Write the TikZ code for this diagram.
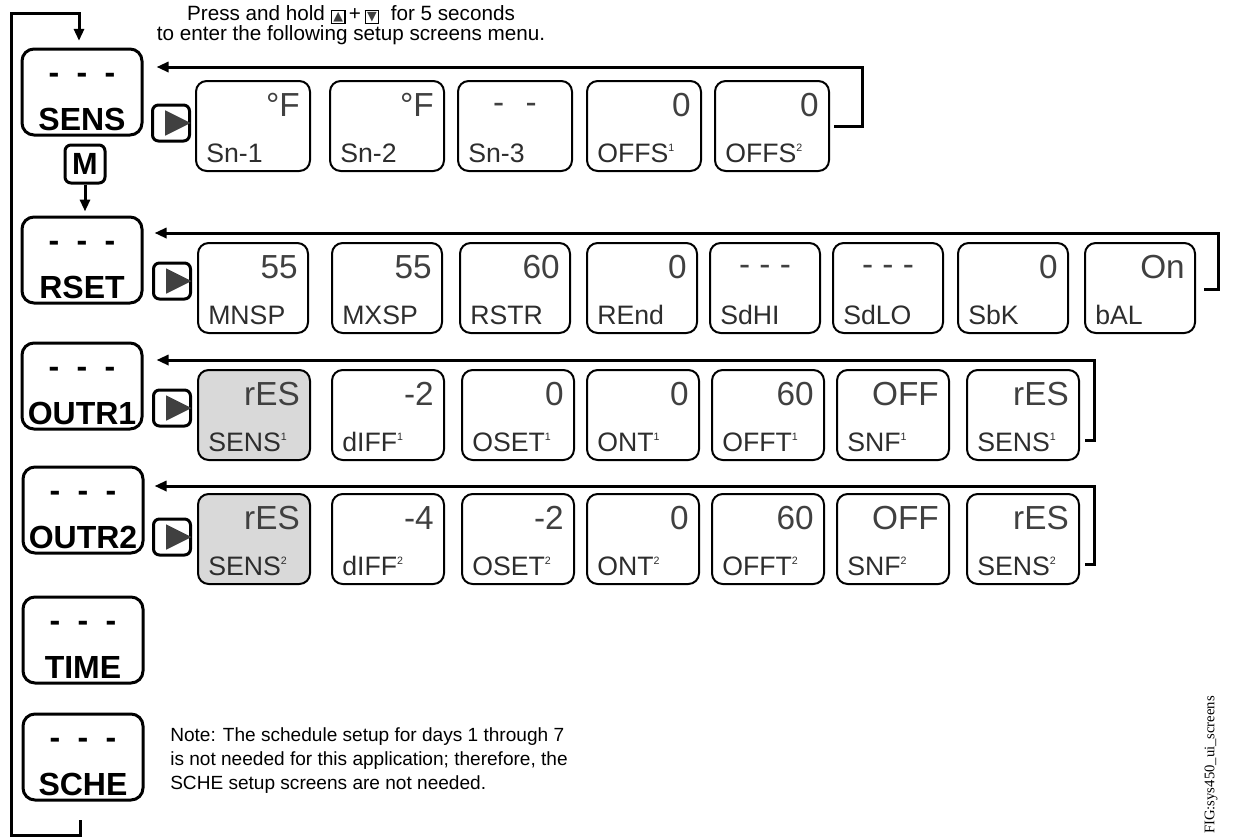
\documentclass[tikz,border=0pt]{standalone}
\usepackage{fontspec}
\setmainfont{Liberation Sans}
\newfontfamily\symfont{DejaVu Sans}
\newfontfamily\figfont{Liberation Serif}
\usetikzlibrary{shapes.geometric, arrows.meta, positioning}
\definecolor{lcdgray}{RGB}{64,64,64}
\definecolor{labgray}{RGB}{45,45,45}
\definecolor{shade}{RGB}{217,217,217}

\newcommand{\blank}{-\hspace{13pt}-\hspace{13pt}-}
\newcommand{\idx}[1]{\raisebox{8.5pt}{\fontsize{8}{8}\selectfont#1}}
\newcommand{\keybox}[1]{{\setlength{\fboxsep}{1pt}\setlength{\fboxrule}{0.9pt}\fbox{\symfont\fontsize{9.5}{9.5}\selectfont\textcolor{lcdgray}{#1}}}}

\tikzset{
  menubox/.style={draw, line width=2.25pt, rounded corners=9pt, minimum width=90pt, minimum height=64.5pt,
    label={[font=\fontsize{24}{24}\selectfont\bfseries, inner sep=0pt, anchor=center, yshift=-23pt]north:\blank},
    label={[font=\fontsize{24}{24}\selectfont\bfseries, inner sep=0pt, text depth=0pt, anchor=south, yshift=4.5pt]south:#1}},
  valtext/.style={inner sep=0pt, draw=none, text=lcdgray, font=\fontsize{25}{25}\selectfont},
  labtext/.style={inner sep=0pt, draw=none, text depth=0pt, text=labgray, font=\fontsize{20}{20}\selectfont},
  screen/.style 2 args={draw, line width=1.5pt, rounded corners=8pt, minimum height=67.5pt,
    label={[valtext, anchor=north east, xshift=-8.25pt, yshift=-9.75pt]north east:#1},
    label={[labtext, anchor=south west, xshift=8.25pt, yshift=6.75pt]south west:#2}},
  blankscreen/.style 2 args={draw, line width=1.5pt, rounded corners=8pt, minimum height=67.5pt,
    label={[valtext, anchor=center, yshift=-21pt]north:#1},
    label={[labtext, anchor=south west, xshift=8.25pt, yshift=6.75pt]south west:#2}},
  playkey/.style={draw, line width=2.25pt, rounded corners=4.5pt, minimum width=27.75pt, minimum height=27pt,
    label={[isosceles triangle, isosceles triangle stretches, fill=lcdgray, draw=none, inner sep=0pt,
      minimum height=19pt, minimum width=19pt, anchor=center, xshift=1.5pt]center:}},
  mkey/.style={draw, line width=2.25pt, rounded corners=4.5pt, minimum width=30pt, minimum height=28.5pt,
    inner sep=0pt, font=\fontsize{23}{23}\selectfont\bfseries},
  flow/.style={line width=2.25pt, -{Triangle[length=9pt,width=7.5pt]}},
  plaintext/.style={inner sep=0pt, font=\fontsize{15.5}{15}\selectfont}
}

\begin{document}
\begin{tikzpicture}[x=0.75pt, y=-0.75pt]
\useasboundingbox (0,0) rectangle (1238,839);

% main menu
\node[menubox={SENS}] (sens) at (82,92) {};
\node[menubox={RSET}] (rset) at (82,260) {};
\node[menubox={OUTR1}] (outr1) at (82,386) {};
\node[menubox={OUTR2}] (outr2) at (83,510) {};
\node[menubox={TIME}] (time) at (83,640) {};
\node[menubox={SCHE}] (sche) at (83,757) {};
\node[mkey] (mkey) at (85,164) {M};

% play keys
\node[playkey] (playa) at (171,123) {};
\node[playkey] (playb) at (172,281) {};
\node[playkey] (playc) at (172,408) {};
\node[playkey] (playd) at (172,537) {};

% SENS screens
\node[screen={°F\hspace{3pt}}{Sn-1}, minimum width=85.5pt] (sna) at (253,126) {};
\node[screen={°F\hspace{3pt}}{Sn-2}, minimum width=85.5pt] (snb) at (387,126) {};
\node[blankscreen={-\hspace{16pt}-}{Sn-3}, minimum width=85.5pt] (snc) at (515,126) {};
\node[screen={0}{OFFS\idx{1}}, minimum width=85.5pt] (offsa) at (644,126) {};
\node[screen={0}{OFFS\idx{2}}, minimum width=85.5pt] (offsb) at (772,126) {};

% RSET screens
\node[screen={55}{MNSP}, minimum width=82.5pt] (mnsp) at (253,288) {};
\node[screen={55}{MXSP}, minimum width=82.5pt] (mxsp) at (387,288) {};
\node[screen={60}{RSTR}, minimum width=82.5pt] (rstr) at (515,288) {};
\node[screen={0}{REnd}, minimum width=82.5pt] (rend) at (642,288) {};
\node[blankscreen={- - -}{SdHI}, minimum width=82.5pt] (sdhi) at (765,288) {};
\node[blankscreen={- - -}{SdLO}, minimum width=82.5pt] (sdlo) at (888,288) {};
\node[screen={0}{SbK}, minimum width=82.5pt] (sbk) at (1013,288) {};
\node[screen={On}{bAL}, minimum width=82.5pt] (bal) at (1140,288) {};

% OUTR1 screens
\node[screen={rES}{SENS\idx{1}}, minimum width=84pt, fill=shade] (sensa) at (254,415) {};
\node[screen={-2}{dIFF\idx{1}}, minimum width=84pt] (diffa) at (388,415) {};
\node[screen={0}{OSET\idx{1}}, minimum width=84pt] (oseta) at (518,415) {};
\node[screen={0}{ONT\idx{1}}, minimum width=84pt] (onta) at (643,415) {};
\node[screen={60}{OFFT\idx{1}}, minimum width=84pt] (offta) at (768,415) {};
\node[screen={OFF}{SNF\idx{1}}, minimum width=84pt] (snfa) at (893,415) {};
\node[screen={rES}{SENS\idx{1}}, minimum width=84pt] (lasta) at (1023,415) {};

% OUTR2 screens
\node[screen={rES}{SENS\idx{2}}, minimum width=84pt, fill=shade] (sensb) at (254,539) {};
\node[screen={-4}{dIFF\idx{2}}, minimum width=84pt] (diffb) at (388,539) {};
\node[screen={-2}{OSET\idx{2}}, minimum width=84pt] (osetb) at (518,539) {};
\node[screen={0}{ONT\idx{2}}, minimum width=84pt] (ontb) at (643,539) {};
\node[screen={60}{OFFT\idx{2}}, minimum width=84pt] (offtb) at (768,539) {};
\node[screen={OFF}{SNF\idx{2}}, minimum width=84pt] (snfb) at (893,539) {};
\node[screen={rES}{SENS\idx{2}}, minimum width=84pt] (lastb) at (1023,539) {};

% texts
\node[plaintext, align=center] (hint) at (351,25) {Press and hold \keybox{▲}\,+\,\keybox{▼}\ \ for 5 seconds\\to enter the following setup screens menu.};
\node[plaintext, align=left, anchor=west, font=\fontsize{14.3}{18}\selectfont] (note) at (170,761) {Note: The schedule setup for days 1 through 7\\is not needed for this application; therefore, the\\SCHE setup screens are not needed.};
\node[rotate=90, anchor=west, inner sep=0pt, font=\figfont\fontsize{11}{11}\selectfont] (figtag) at (1211,834) {FIG:sys450\_ui\_screens};

% connectors
\coordinate (loopend) at (80,820);
\draw[flow, shorten >=5pt] (loopend) |- (11,835) |- (79,13) -- (sens.north -| 79,13);
\draw[flow, shorten >=3pt] (mkey) -- (rset.north -| mkey);
\draw[flow, shorten >=9.75pt] (offsb.east) ++(4,0) -| (862,67) -- (sens.east |- 0,67);
\draw[flow, shorten >=8.25pt] (bal.east) ++(8,1) -| (1218,233) -- (rset.east |- 0,233);
\draw[flow, shorten >=9.75pt] (lasta.east) ++(5,25) -| (1094,360) -- (outr1.east |- 0,360);
\draw[flow, shorten >=7.5pt] (lastb.east) ++(5,25) -| (1094,486) -- (outr2.east |- 0,486);
\end{tikzpicture}
\end{document}
